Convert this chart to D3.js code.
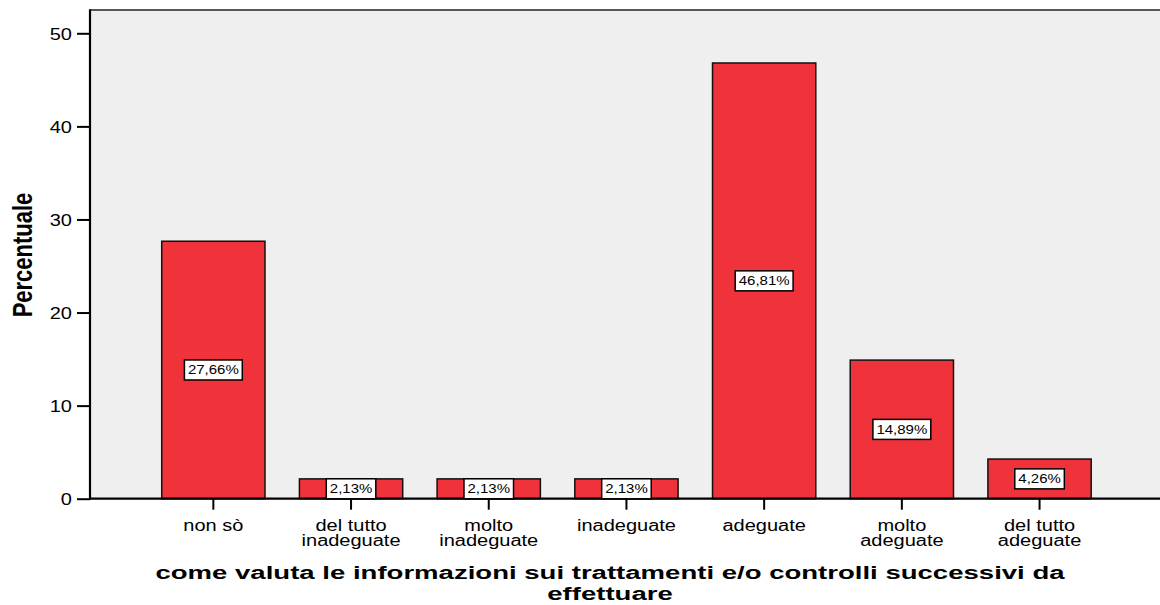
<!DOCTYPE html>
<html>
<head>
    <meta charset="utf-8">
    <title>come valuta le informazioni</title>
    <script src="https://cdn.jsdelivr.net/npm/d3@7/dist/d3.min.js"></script>
    <style>
        body { margin: 0; background: #fff; }
        text { font-family: "Liberation Sans", Arial, sans-serif; fill: #000; }
    </style>
</head>
<body>
<script>
    var categories = [["non sò"], ["del tutto", "inadeguate"], ["molto", "inadeguate"], ["inadeguate"],
                      ["adeguate"], ["molto", "adeguate"], ["del tutto", "adeguate"]];
    var values = [27.66, 2.13, 2.13, 2.13, 46.81, 14.89, 4.26];
    var yTicks = [0, 10, 20, 30, 40, 50];
    var xTitle = ["come valuta le informazioni sui trattamenti e/o controlli successivi da", "effettuare"];
    var yTitle = "Percentuale";

    var w = 1160, h = 605;
    var sx = 1.25; // the original picture is stretched sideways
    var left = 90, right = 1160;

    var svg = d3.select("body").append("svg")
        .attr("width", w)
        .attr("height", h);

    var keys = categories.map(function(d){ return d.join(" "); });

    var x = d3.scaleBand()
        .domain(keys)
        .range([144.5, 1108.4])
        .paddingInner(0.25)
        .paddingOuter(0.125);

    var y = d3.scaleLinear()
        .domain([0, 50])
        .range([498.7, 33.3]);

    var yTop = y(52.5);

    // plot background
    svg.append("rect")
        .attr("x", left).attr("y", yTop)
        .attr("width", right - left).attr("height", y(0) - yTop)
        .attr("fill", "#efefef");

    svg.append("line")
        .attr("x1", left).attr("x2", right)
        .attr("y1", yTop).attr("y2", yTop)
        .attr("stroke", "#222").attr("stroke-width", 1.5);

    // bars
    svg.selectAll("rect.bar")
        .data(values)
        .enter()
        .append("rect")
        .attr("class", "bar")
        .attr("x", function(d, i){ return x(keys[i]); })
        .attr("y", function(d){ return y(d); })
        .attr("width", x.bandwidth())
        .attr("height", function(d){ return y(0) - y(d); })
        .attr("fill", "#f0333b")
        .attr("stroke", "#111")
        .attr("stroke-width", 1.5);

    // y axis
    var yAxis = svg.append("g")
        .attr("transform", "translate(" + left + ",0)")
        .call(d3.axisLeft(y).tickValues(yTicks).tickSize(13).tickPadding(5));
    yAxis.select(".domain").remove();
    yAxis.selectAll(".tick line").attr("stroke", "#000").attr("stroke-width", 2);
    yAxis.selectAll(".tick text").remove();
    yAxis.selectAll(".tick").append("text")
        .attr("transform", "translate(-18,0) scale(" + sx + ",1)")
        .attr("dy", "0.36em")
        .attr("text-anchor", "end")
        .attr("font-size", 16)
        .text(function(d){ return d; });

    svg.append("line")
        .attr("x1", left).attr("x2", left)
        .attr("y1", yTop - 0.75).attr("y2", y(0) + 1)
        .attr("stroke", "#000").attr("stroke-width", 2.2);

    // x axis
    svg.append("line")
        .attr("x1", left).attr("x2", right)
        .attr("y1", y(0)).attr("y2", y(0))
        .attr("stroke", "#000").attr("stroke-width", 2.2);

    var xt = svg.selectAll("g.xtick")
        .data(categories)
        .enter()
        .append("g")
        .attr("class", "xtick")
        .attr("transform", function(d, i){ return "translate(" + (x(keys[i]) + x.bandwidth() / 2) + ",0)"; });

    xt.append("line")
        .attr("y1", y(0)).attr("y2", y(0) + 11)
        .attr("stroke", "#000").attr("stroke-width", 2);

    xt.each(function(d){
        var g = d3.select(this);
        d.forEach(function(line, j){
            g.append("text")
                .attr("transform", "translate(0," + (530.5 + j * 15.5) + ") scale(" + sx + ",1)")
                .attr("text-anchor", "middle")
                .attr("font-size", 16)
                .text(line);
        });
    });

    // value labels in boxes
    var lab = svg.selectAll("g.lab")
        .data(values)
        .enter()
        .append("g")
        .attr("class", "lab")
        .attr("transform", function(d, i){
            return "translate(" + (x(keys[i]) + x.bandwidth() / 2) + "," + ((y(0) + y(d)) / 2) + ")";
        });

    lab.append("rect");
    lab.append("text")
        .attr("transform", "scale(" + sx + ",1)")
        .attr("text-anchor", "middle")
        .attr("dy", "0.36em")
        .attr("font-size", 12)
        .text(function(d){ return d.toFixed(2).replace(".", ",") + "%"; });

    lab.each(function(){
        var g = d3.select(this);
        var tw = g.select("text").node().getComputedTextLength() * sx + 7;
        g.select("rect")
            .attr("x", -tw / 2).attr("y", -10)
            .attr("width", tw).attr("height", 20)
            .attr("fill", "#fff")
            .attr("stroke", "#000")
            .attr("stroke-width", 1.5);
    });

    // titles
    svg.selectAll("text.xtitle")
        .data(xTitle)
        .enter()
        .append("text")
        .attr("class", "xtitle")
        .attr("transform", function(d, i){ return "translate(610," + (578.5 + i * 21.5) + ") scale(1.45,1)"; })
        .attr("text-anchor", "middle")
        .attr("font-size", 19)
        .attr("font-weight", "bold")
        .text(function(d){ return d; });

    svg.append("text")
        .attr("transform", "translate(22,255) scale(" + sx + ",1) rotate(-90)")
        .attr("text-anchor", "middle")
        .attr("dy", "0.36em")
        .attr("font-size", 22)
        .attr("font-weight", "bold")
        .text(yTitle);
</script>
</body>
</html>
